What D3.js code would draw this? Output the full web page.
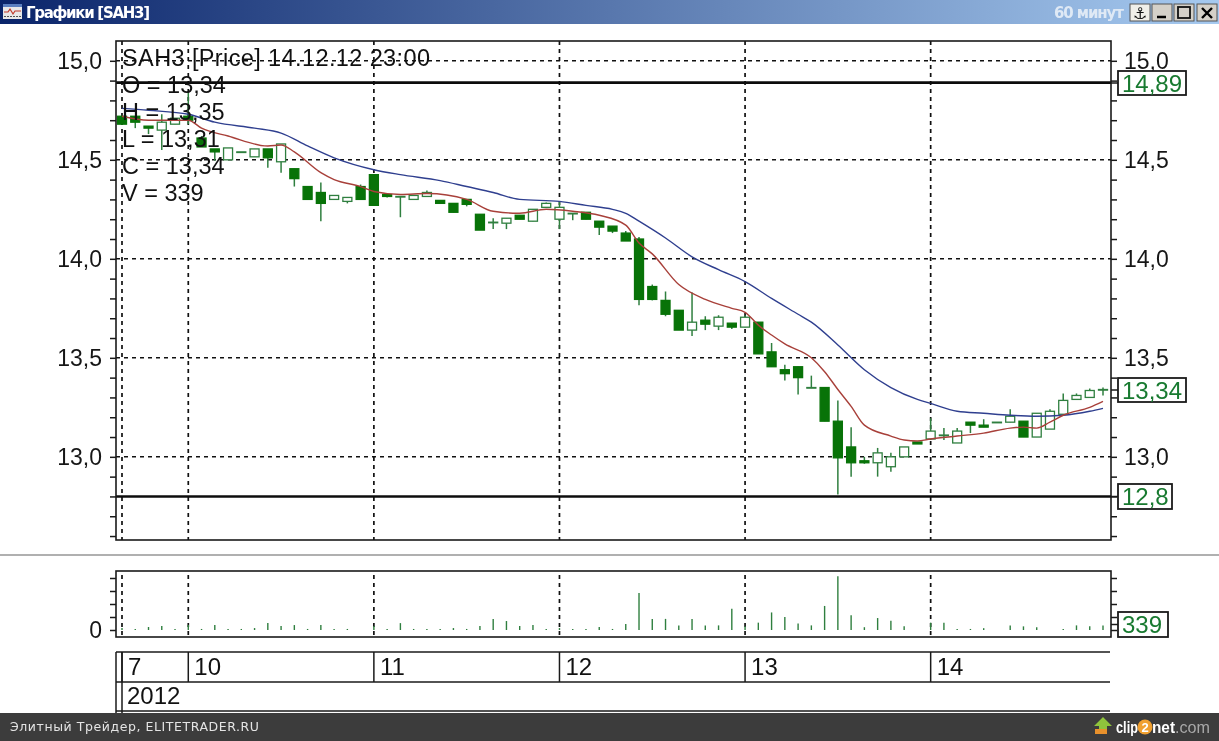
<!DOCTYPE html>
<html><head><meta charset="utf-8">
<script src="https://cdnjs.cloudflare.com/ajax/libs/d3/7.8.5/d3.min.js"></script>
<style>html,body{margin:0;padding:0;background:#fff;overflow:hidden}svg{display:block;filter:blur(0.35px)}text{font-family:"Liberation Sans",Arial,sans-serif}</style>
</head><body><svg id="c" width="1219" height="741"></svg>
<script>
const opens=[14.72,14.72,14.67,14.65,14.68,14.72,14.61,14.555,14.50,14.54,14.515,14.555,14.49,14.455,14.365,14.335,14.30,14.29,14.365,14.425,14.325,14.315,14.30,14.315,14.295,14.28,14.30,14.225,14.185,14.18,14.22,14.19,14.26,14.20,14.23,14.235,14.19,14.165,14.13,14.10,13.86,13.79,13.74,13.64,13.69,13.66,13.675,13.655,13.68,13.53,13.44,13.455,13.35,13.35,13.18,13.05,12.98,12.97,12.95,13.0,13.075,13.09,13.11,13.07,13.175,13.16,13.175,13.175,13.18,13.10,13.14,13.215,13.29,13.30,13.34];
const highs=[14.72,14.72,14.67,14.73,14.71,14.84,14.62,14.555,14.56,14.54,14.555,14.555,14.58,14.455,14.365,14.385,14.32,14.31,14.375,14.425,14.325,14.315,14.32,14.345,14.295,14.28,14.30,14.225,14.205,14.205,14.22,14.25,14.285,14.29,14.23,14.235,14.19,14.165,14.14,14.11,13.87,13.835,13.74,13.83,13.71,13.715,13.675,13.715,13.68,13.575,13.465,13.455,13.41,13.35,13.285,13.15,13.0,13.045,13.02,13.05,13.075,13.195,13.145,13.145,13.175,13.19,13.175,13.24,13.18,13.22,13.24,13.32,13.32,13.345,13.35];
const lows=[14.68,14.66,14.63,14.55,14.68,14.68,14.565,14.495,14.50,14.54,14.515,14.46,14.435,14.365,14.30,14.19,14.30,14.28,14.30,14.27,14.31,14.21,14.30,14.315,14.28,14.235,14.265,14.145,14.15,14.15,14.20,14.19,14.26,14.15,14.195,14.20,14.12,14.13,14.09,13.765,13.79,13.71,13.64,13.61,13.64,13.64,13.645,13.655,13.52,13.455,13.385,13.315,13.35,13.18,12.81,12.90,12.965,12.90,12.925,13.0,13.065,13.085,13.085,13.07,13.12,13.15,13.175,13.175,13.10,13.10,13.14,13.215,13.29,13.30,13.31];
const closes=[14.68,14.69,14.66,14.69,14.71,14.70,14.565,14.54,14.56,14.54,14.555,14.51,14.58,14.405,14.30,14.28,14.32,14.31,14.30,14.27,14.315,14.315,14.32,14.335,14.28,14.235,14.275,14.145,14.185,14.205,14.20,14.25,14.28,14.26,14.23,14.20,14.16,14.14,14.09,13.795,13.795,13.72,13.64,13.68,13.67,13.705,13.655,13.705,13.52,13.455,13.42,13.40,13.35,13.18,12.995,12.97,12.97,13.02,13.0,13.05,13.065,13.13,13.11,13.13,13.16,13.15,13.175,13.205,13.10,13.22,13.23,13.285,13.31,13.335,13.34];
const volumes=[150,80,230,300,80,380,80,380,80,80,150,530,300,380,80,380,80,80,0,300,80,530,80,80,80,150,80,300,840,690,300,380,80,150,80,80,230,80,465,2850,855,855,355,855,355,355,1640,280,565,1350,995,495,355,1850,4130,1135,215,920,705,280,0,565,565,80,80,140,0,355,280,215,0,80,355,280,339];
const blueIdx=[0,2,5,7,10,12,14,16,19,21,24,26,28,30,33,35,37,38,39,41,43,45,47,49,51,52,54,56,58,60,61,63,65,67,69,71,73,74];
const blueVal=[14.76,14.75,14.73,14.69,14.66,14.635,14.57,14.51,14.45,14.425,14.395,14.365,14.335,14.30,14.29,14.27,14.25,14.23,14.19,14.105,14.01,13.945,13.885,13.80,13.72,13.68,13.565,13.44,13.35,13.29,13.27,13.23,13.22,13.21,13.205,13.21,13.23,13.245];
const redIdx=[0,2,5,6,8,11,12,13,15,16,18,19,21,23,26,28,30,32,34,36,38,39,40,42,44,46,47,48,49,50,52,53,54,55,56,58,59,60,61,63,65,67,68,69,70,71,73,74];
const redVal=[14.72,14.70,14.70,14.66,14.62,14.57,14.575,14.54,14.435,14.40,14.365,14.34,14.325,14.33,14.30,14.24,14.23,14.25,14.24,14.22,14.17,14.08,14.025,13.87,13.795,13.75,13.73,13.665,13.615,13.57,13.50,13.43,13.34,13.255,13.16,13.105,13.085,13.08,13.09,13.105,13.12,13.145,13.15,13.145,13.175,13.21,13.25,13.28];
const dayIdx=[0,5,19,33,47,61];
const dayLabels=["7","10","11","12","13","14"];
const yearLabel="2012";
const priceLabels=[15,14.5,14,13.5,13];
const levels=[14.89,12.8];
const volTicks=[0,1000,2000,3000,4000];
const infoLines=["SAH3 [Price] 14.12.12 23:00","O = 13,34","H = 13,35","L = 13,31","C = 13,34","V = 339"];

const svg=d3.select("#c");
const L=116,R=1111,T=41,B=540,VT=571,VB=637;
const x=d3.scaleLinear().domain([0,74]).range([122,1103]);
const y=d3.scaleLinear().domain([12.58,15.1]).range([B,T]);
const yv=d3.scaleLinear().domain([0,4538]).range([630,VT]);
const comma=v=>String(v%1===0?v.toFixed(1):+v.toFixed(2)).replace(".",",");
const INK="#1a1a1a",GREEN="#087308",HOLLOW="#2f7f3f";

// window chrome
const defs=svg.append("defs");
const g=defs.append("linearGradient").attr("id","tb");
g.append("stop").attr("offset","0").attr("stop-color","#0a246a");
g.append("stop").attr("offset","1").attr("stop-color","#a6caf0");
svg.append("rect").attr("width",1219).attr("height",24).attr("fill","url(#tb)");
const ic=svg.append("g").attr("transform","translate(3,4)");
ic.append("rect").attr("width",19).attr("height",15).attr("fill","#e8e8e8");
ic.append("rect").attr("y",0).attr("width",19).attr("height",3).attr("fill","#5a7fc0");
ic.append("path").attr("d","M1 8h4l2-3 3 5 2-3h6").attr("fill","none").attr("stroke","#c0392b").attr("stroke-width",1.2);
ic.append("path").attr("d","M1 12.5h17").attr("stroke","#555").attr("stroke-dasharray","2 1");
svg.append("text").attr("x",26).attr("y",18).attr("fill","#fff").attr("font-size",15).attr("font-weight",700).attr("style",'font-family:"DejaVu Sans"').attr("textLength",124).text("Графики [SAH3]");
svg.append("text").attr("x",1054).attr("y",18).attr("fill","#dfe9f5").attr("font-size",15).attr("font-weight",700).attr("style",'font-family:"DejaVu Sans"').attr("textLength",70).text("60 минут");
[[1130,"#f0efe9"],[1152,"#d4d0c8"],[1174,"#d4d0c8"],[1197,"#d4d0c8"]].forEach(([bx,f])=>{
  svg.append("rect").attr("x",bx).attr("y",4).attr("width",20).attr("height",17).attr("fill",f).attr("stroke","#555").attr("stroke-width",1);
});
svg.append("text").attr("x",1140).attr("y",19).attr("text-anchor","middle").attr("font-size",16).attr("font-weight",700).attr("fill","#111").attr("style",'font-family:"DejaVu Sans"').text("⚓");
svg.append("path").attr("d","M1157 17h9").attr("stroke","#000").attr("stroke-width",2.5);
svg.append("rect").attr("x",1178).attr("y",7).attr("width",12).attr("height",11).attr("fill","none").attr("stroke","#111").attr("stroke-width",1.8);
svg.append("path").attr("d","M1202 8l10 10M1212 8l-10 10").attr("stroke","#000").attr("stroke-width",2.4);

// separators
svg.append("rect").attr("x",0).attr("y",554).attr("width",1219).attr("height",2).attr("fill","#b0b0b0");

// dashed grid
const main=svg.append("g");
main.selectAll("line.h").data(priceLabels).join("line").attr("x1",L).attr("x2",R).attr("y1",d=>y(d)).attr("y2",d=>y(d))
  .attr("stroke","#111").attr("stroke-width",1.5).attr("stroke-dasharray","4 4");
main.selectAll("line.v").data(dayIdx).join("line").attr("x1",d=>x(d)).attr("x2",d=>x(d)).attr("y1",T).attr("y2",B)
  .attr("stroke","#111").attr("stroke-width",1.7).attr("stroke-dasharray","4 4");
main.selectAll("line.l").data(levels).join("line").attr("x1",L).attr("x2",R).attr("y1",d=>y(d)).attr("y2",d=>y(d))
  .attr("stroke","#0c0c0c").attr("stroke-width",2.6);

// candles
const idx=d3.range(opens.length), bw=9;
main.selectAll("line.w").data(idx).join("line").attr("x1",i=>x(i)).attr("x2",i=>x(i)).attr("y1",i=>y(highs[i])).attr("y2",i=>y(lows[i]))
  .attr("stroke",HOLLOW).attr("stroke-width",1.5);
main.selectAll("rect.c").data(idx).join("rect")
  .attr("x",i=>x(i)-bw/2)
  .attr("y",i=>y(Math.max(opens[i],closes[i])))
  .attr("width",bw)
  .attr("height",i=>Math.max(0.6,y(Math.min(opens[i],closes[i]))-y(Math.max(opens[i],closes[i]))))
  .attr("fill",i=>closes[i]>opens[i]?"#fff":(closes[i]<opens[i]?GREEN:HOLLOW))
  .attr("stroke",i=>closes[i]>opens[i]?HOLLOW:(closes[i]<opens[i]?GREEN:HOLLOW))
  .attr("stroke-width",1.3);

// moving averages
const ln=d3.line().x(d=>x(d[0])).y(d=>y(d[1])).curve(d3.curveMonotoneX);
main.append("path").attr("d",ln(blueIdx.map((d,i)=>[d,blueVal[i]]))).attr("fill","none").attr("stroke","#2f3f8f").attr("stroke-width",1.4);
main.append("path").attr("d",ln(redIdx.map((d,i)=>[d,redVal[i]]))).attr("fill","none").attr("stroke","#a8403a").attr("stroke-width",1.4);

// frame
svg.append("rect").attr("x",L).attr("y",T).attr("width",R-L).attr("height",B-T).attr("fill","none").attr("stroke",INK).attr("stroke-width",1.6);

// axes
const minor=d3.range(126,151).map(d=>d/10);
const fmtY=d=>priceLabels.some(p=>Math.abs(p-d)<1e-6)?comma(d):"";
function style(a){a.select(".domain").remove();a.selectAll("line").attr("stroke",INK).attr("stroke-width",1.5);
  a.selectAll("text").attr("fill","#161616").attr("font-size",23).style("font-family",'"Liberation Sans",Arial,sans-serif');}
svg.append("g").attr("transform",`translate(${L},0)`).call(d3.axisLeft(y).tickValues(minor).tickFormat(fmtY).tickSize(6).tickPadding(8)).call(style);
svg.append("g").attr("transform",`translate(${R},0)`).call(d3.axisRight(y).tickValues(minor).tickFormat(fmtY).tickSize(6).tickPadding(7)).call(style);

// info text
svg.append("g").selectAll("text").data(infoLines).join("text").attr("x",122).attr("y",(d,i)=>66+i*27).attr("font-size",23.5).attr("fill","#111")
  .attr("textLength",(d,i)=>i===0?308:null).text(d=>d);

// value boxes
function box(bx,by,w,h,t){
  svg.append("path").attr("d",`M1111 ${by+h/2}H${bx}`).attr("stroke",INK).attr("stroke-width",1.5);
  svg.append("rect").attr("x",bx).attr("y",by).attr("width",w).attr("height",h).attr("fill","#fff").attr("stroke",INK).attr("stroke-width",1.8);
  svg.append("text").attr("x",bx+4).attr("y",by+h/2+8.5).attr("font-size",24).attr("fill","#187a30").text(t);
}
box(1118,71,68,24,comma(levels[0]));
box(1118,378,68,24,comma(closes[closes.length-1]));
box(1118,484,54,25,comma(levels[1]));

// volume panel
const vol=svg.append("g");
vol.selectAll("line.g").data(dayIdx).join("line").attr("x1",d=>x(d)).attr("x2",d=>x(d)).attr("y1",VT+4).attr("y2",VB)
  .attr("stroke","#111").attr("stroke-width",1.7).attr("stroke-dasharray","4 4");
vol.selectAll("line.b").data(idx.filter(i=>volumes[i]>0)).join("line").attr("x1",i=>x(i)).attr("x2",i=>x(i)).attr("y1",yv(0)).attr("y2",i=>yv(volumes[i]))
  .attr("stroke","#2f7f3f").attr("stroke-width",1.4);
svg.append("rect").attr("x",L).attr("y",VT).attr("width",R-L).attr("height",VB-VT).attr("fill","none").attr("stroke",INK).attr("stroke-width",1.6);
svg.append("g").attr("transform",`translate(${L},0)`).call(d3.axisLeft(yv).tickValues(volTicks).tickFormat(d=>d===0?"0":"").tickSize(6).tickPadding(8)).call(style);
svg.append("g").attr("transform",`translate(${R},0)`).call(d3.axisRight(yv).tickValues(volTicks).tickFormat("").tickSize(6)).call(style);
box(1118,612,50,25,String(volumes[volumes.length-1]));

// date strip
const ds=svg.append("g");
[652,682,711].forEach(v=>ds.append("line").attr("x1",L).attr("x2",R-1).attr("y1",v).attr("y2",v).attr("stroke",INK).attr("stroke-width",1.5));
ds.append("line").attr("x1",L).attr("x2",L).attr("y1",652).attr("y2",713).attr("stroke",INK).attr("stroke-width",1.5);
ds.append("line").attr("x1",x(0)).attr("x2",x(0)).attr("y1",652).attr("y2",713).attr("stroke",INK).attr("stroke-width",1.5);
ds.selectAll("line.d").data(dayIdx).join("line").attr("x1",d=>x(d)).attr("x2",d=>x(d)).attr("y1",652).attr("y2",682).attr("stroke",INK).attr("stroke-width",1.5);
ds.selectAll("text.d").data(dayIdx).join("text").attr("x",d=>x(d)+6).attr("y",675).attr("font-size",24).attr("fill","#111").text((d,i)=>dayLabels[i]);
ds.append("text").attr("x",x(0)+5).attr("y",704).attr("font-size",24).attr("fill","#111").text(yearLabel);

// footer
svg.append("rect").attr("y",713).attr("width",1219).attr("height",28).attr("fill","#3c3c3c");
svg.append("text").attr("x",10).attr("y",731).attr("font-size",12.5).attr("fill","#e4e4e4").attr("style",'font-family:"DejaVu Sans"').attr("textLength",249).text("Элитный Трейдер, ELITETRADER.RU");
svg.append("path").attr("d","M1103 717l9 9h-5v7h-8v-7h-5z").attr("fill","#8fc43c");
svg.append("rect").attr("x",1095).attr("y",729).attr("width",12).attr("height",5).attr("fill","#e8912c");
const wide=(tx,t,w,fill,bold)=>svg.append("text").attr("x",tx).attr("y",733).attr("font-size",17).attr("font-weight",bold?700:400).attr("fill",fill).attr("textLength",w).attr("lengthAdjust","spacingAndGlyphs").text(t);
wide(1116,"clip",22,"#fff",true);
svg.append("circle").attr("cx",1145).attr("cy",727).attr("r",7.5).attr("fill","#f0a030");
svg.append("text").attr("x",1145).attr("y",732).attr("text-anchor","middle").attr("font-size",13).attr("font-weight",700).attr("fill","#fff").text("2");
wide(1152,"net",23,"#fff",true);
wide(1175,".com",35,"#a8a8a8",false);
</script></body></html>
